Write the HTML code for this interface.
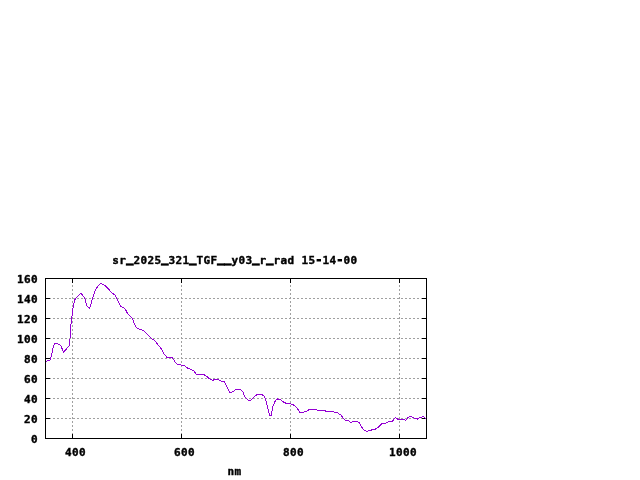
<!DOCTYPE html>
<html lang="en"><head><meta charset="utf-8"><title>sr_2025_321_TGF__y03_r_rad 15-14-00</title>
<style>html,body{margin:0;padding:0;background:#fff}body{width:640px;height:480px;overflow:hidden}svg{display:block;will-change:transform}text{font-family:"DejaVu Sans Mono","Liberation Mono",monospace;font-weight:bold;font-size:11px;letter-spacing:0.378px;fill:#000;stroke:#000;stroke-width:0.4px;stroke-linejoin:miter;white-space:pre}.u{stroke-width:1.3px}.h{stroke-width:1px}.g{stroke:#a0a0a0;stroke-width:1;stroke-dasharray:2 2;fill:none}.k{stroke:#000;stroke-width:1;fill:none}</style></head><body>
<svg width="640" height="480" viewBox="0 0 640 480">
<rect width="640" height="480" fill="#fff"/>
<g shape-rendering="crispEdges">
<line class="g" x1="45" y1="418.5" x2="427" y2="418.5"/>
<line class="g" x1="45" y1="398.5" x2="427" y2="398.5"/>
<line class="g" x1="45" y1="378.5" x2="427" y2="378.5"/>
<line class="g" x1="45" y1="358.5" x2="427" y2="358.5"/>
<line class="g" x1="45" y1="338.5" x2="427" y2="338.5"/>
<line class="g" x1="45" y1="318.5" x2="427" y2="318.5"/>
<line class="g" x1="45" y1="298.5" x2="427" y2="298.5"/>
<line class="g" x1="72.5" y1="439" x2="72.5" y2="278"/>
<line class="g" x1="181.5" y1="439" x2="181.5" y2="278"/>
<line class="g" x1="290.5" y1="439" x2="290.5" y2="278"/>
<line class="g" x1="399.5" y1="439" x2="399.5" y2="278"/>
<line class="k" x1="45" y1="418.5" x2="50" y2="418.5"/>
<line class="k" x1="427" y1="418.5" x2="422" y2="418.5"/>
<line class="k" x1="45" y1="398.5" x2="50" y2="398.5"/>
<line class="k" x1="427" y1="398.5" x2="422" y2="398.5"/>
<line class="k" x1="45" y1="378.5" x2="50" y2="378.5"/>
<line class="k" x1="427" y1="378.5" x2="422" y2="378.5"/>
<line class="k" x1="45" y1="358.5" x2="50" y2="358.5"/>
<line class="k" x1="427" y1="358.5" x2="422" y2="358.5"/>
<line class="k" x1="45" y1="338.5" x2="50" y2="338.5"/>
<line class="k" x1="427" y1="338.5" x2="422" y2="338.5"/>
<line class="k" x1="45" y1="318.5" x2="50" y2="318.5"/>
<line class="k" x1="427" y1="318.5" x2="422" y2="318.5"/>
<line class="k" x1="45" y1="298.5" x2="50" y2="298.5"/>
<line class="k" x1="427" y1="298.5" x2="422" y2="298.5"/>
<line class="k" x1="72.5" y1="439" x2="72.5" y2="434"/>
<line class="k" x1="72.5" y1="278" x2="72.5" y2="283"/>
<line class="k" x1="181.5" y1="439" x2="181.5" y2="434"/>
<line class="k" x1="181.5" y1="278" x2="181.5" y2="283"/>
<line class="k" x1="290.5" y1="439" x2="290.5" y2="434"/>
<line class="k" x1="290.5" y1="278" x2="290.5" y2="283"/>
<line class="k" x1="399.5" y1="439" x2="399.5" y2="434"/>
<line class="k" x1="399.5" y1="278" x2="399.5" y2="283"/>
<rect class="k" x="45.5" y="278.5" width="381" height="160"/>
</g>
<path d="M45.9 361.6 L47.5 360.4 L50 360 L51.5 355 L53 348.1 L54.6 343.75 L56.5 343.4 L59.6 344.4 L61.5 346.9 L63.4 352.5 L66.5 348.75 L69.4 345.6 L70 338.75 L70.6 328.1 L71.75 318 L72.75 309.9 L73.6 304.25 L74.9 299.5 L77.75 296.1 L81.1 293.25 L84.6 298 L87.1 306.1 L89.25 308.4 L90.9 304.9 L92.75 297.4 L95.25 290.5 L98 285.75 L100.9 283.4 L105.25 285.5 L108.4 289 L112.1 293 L115 294.9 L117.75 300.5 L120.4 306 L123.75 307.9 L126 310.4 L127.9 314.1 L132.25 318.25 L134.1 323.5 L136.6 327.9 L140.4 329.75 L143.5 330.4 L147.25 334.1 L151.6 338.5 L154.75 340.75 L158.5 345.4 L162.25 350 L163.75 353.75 L166.9 357.25 L169.4 357.5 L171.9 357.5 L173.5 359.4 L175 361.9 L177.5 364.4 L180 364.6 L181.9 365.6 L184.4 365.6 L186.9 367.75 L190 369 L193.5 370.6 L196.25 374.1 L200 374.4 L203.5 374.4 L205.6 375.6 L208.75 378.1 L212.5 380.4 L215 379.5 L218.1 379.5 L221.25 381 L224 381.6 L226.25 385 L228.1 389.4 L229.75 392.25 L231.9 392.25 L233.5 391.25 L235.75 389.4 L240.1 389.4 L242.6 391.25 L244.5 396.25 L248.25 400 L251.4 400 L254.5 396.25 L257.6 394.4 L262 394.4 L264.75 396.9 L267 405 L269.5 415.25 L271.4 415.25 L272.6 406.9 L275.75 400 L277.6 399 L280.1 399.4 L283.25 401.9 L286.4 403.4 L289.5 403.5 L292 404.4 L294.5 405.4 L297 408.1 L299.75 412.25 L303.25 412.25 L306.5 411.25 L309.6 409.4 L316.5 409.4 L317.75 410.4 L324.6 410.4 L325.9 411.4 L333.4 411.4 L334.6 412.25 L337.5 412.5 L339 414 L341.1 415 L343 418.1 L345.25 420.4 L348.4 420.4 L350.9 422.5 L352.75 421.4 L357.1 421.4 L359 422.5 L361.5 426.9 L364 430.25 L366.9 431.5 L369 430.5 L371 430.4 L372 429.5 L374.7 429.4 L378.4 427.3 L382.2 423.3 L385.5 423.1 L387.3 422.2 L389.7 421.7 L392.3 421.25 L395.3 417.5 L398.1 419.4 L402.8 419.4 L404.5 419.6 L405.9 420.3 L408 417.5 L410.8 416.4 L414.1 418.25 L416.4 418.4 L418 419.2 L419.7 417.5 L421.6 417.2 L423.25 416.4 L425.8 418.4" fill="none" stroke="#9400d3" stroke-width="1" stroke-linejoin="round" shape-rendering="crispEdges"/>
<text x="235" y="264" text-anchor="middle">sr<tspan class="u" dy="-2.3">_</tspan><tspan dy="2.3">2025</tspan><tspan class="u" dy="-2.3">_</tspan><tspan dy="2.3">321</tspan><tspan class="u" dy="-2.3">_</tspan><tspan dy="2.3">TGF</tspan><tspan class="u" dy="-2.3">__</tspan><tspan dy="2.3">y03</tspan><tspan class="u" dy="-2.3">_</tspan><tspan dy="2.3">r</tspan><tspan class="u" dy="-2.3">_</tspan><tspan dy="2.3">rad 15</tspan><tspan class="h" dy="-0.8">-</tspan><tspan dy="0.8">14</tspan><tspan class="h" dy="-0.8">-</tspan><tspan dy="0.8">00</tspan></text>
<text x="38" y="443" text-anchor="end">0</text>
<text x="38" y="423" text-anchor="end">20</text>
<text x="38" y="403" text-anchor="end">40</text>
<text x="38" y="383" text-anchor="end">60</text>
<text x="38" y="363" text-anchor="end">80</text>
<text x="38" y="343" text-anchor="end">100</text>
<text x="38" y="323" text-anchor="end">120</text>
<text x="38" y="303" text-anchor="end">140</text>
<text x="38" y="283" text-anchor="end">160</text>
<text x="75.5" y="456" text-anchor="middle">400</text>
<text x="184.5" y="456" text-anchor="middle">600</text>
<text x="293.5" y="456" text-anchor="middle">800</text>
<text x="403" y="456" text-anchor="middle">1000</text>
<text x="234.5" y="475" text-anchor="middle">nm</text>
</svg></body></html>
